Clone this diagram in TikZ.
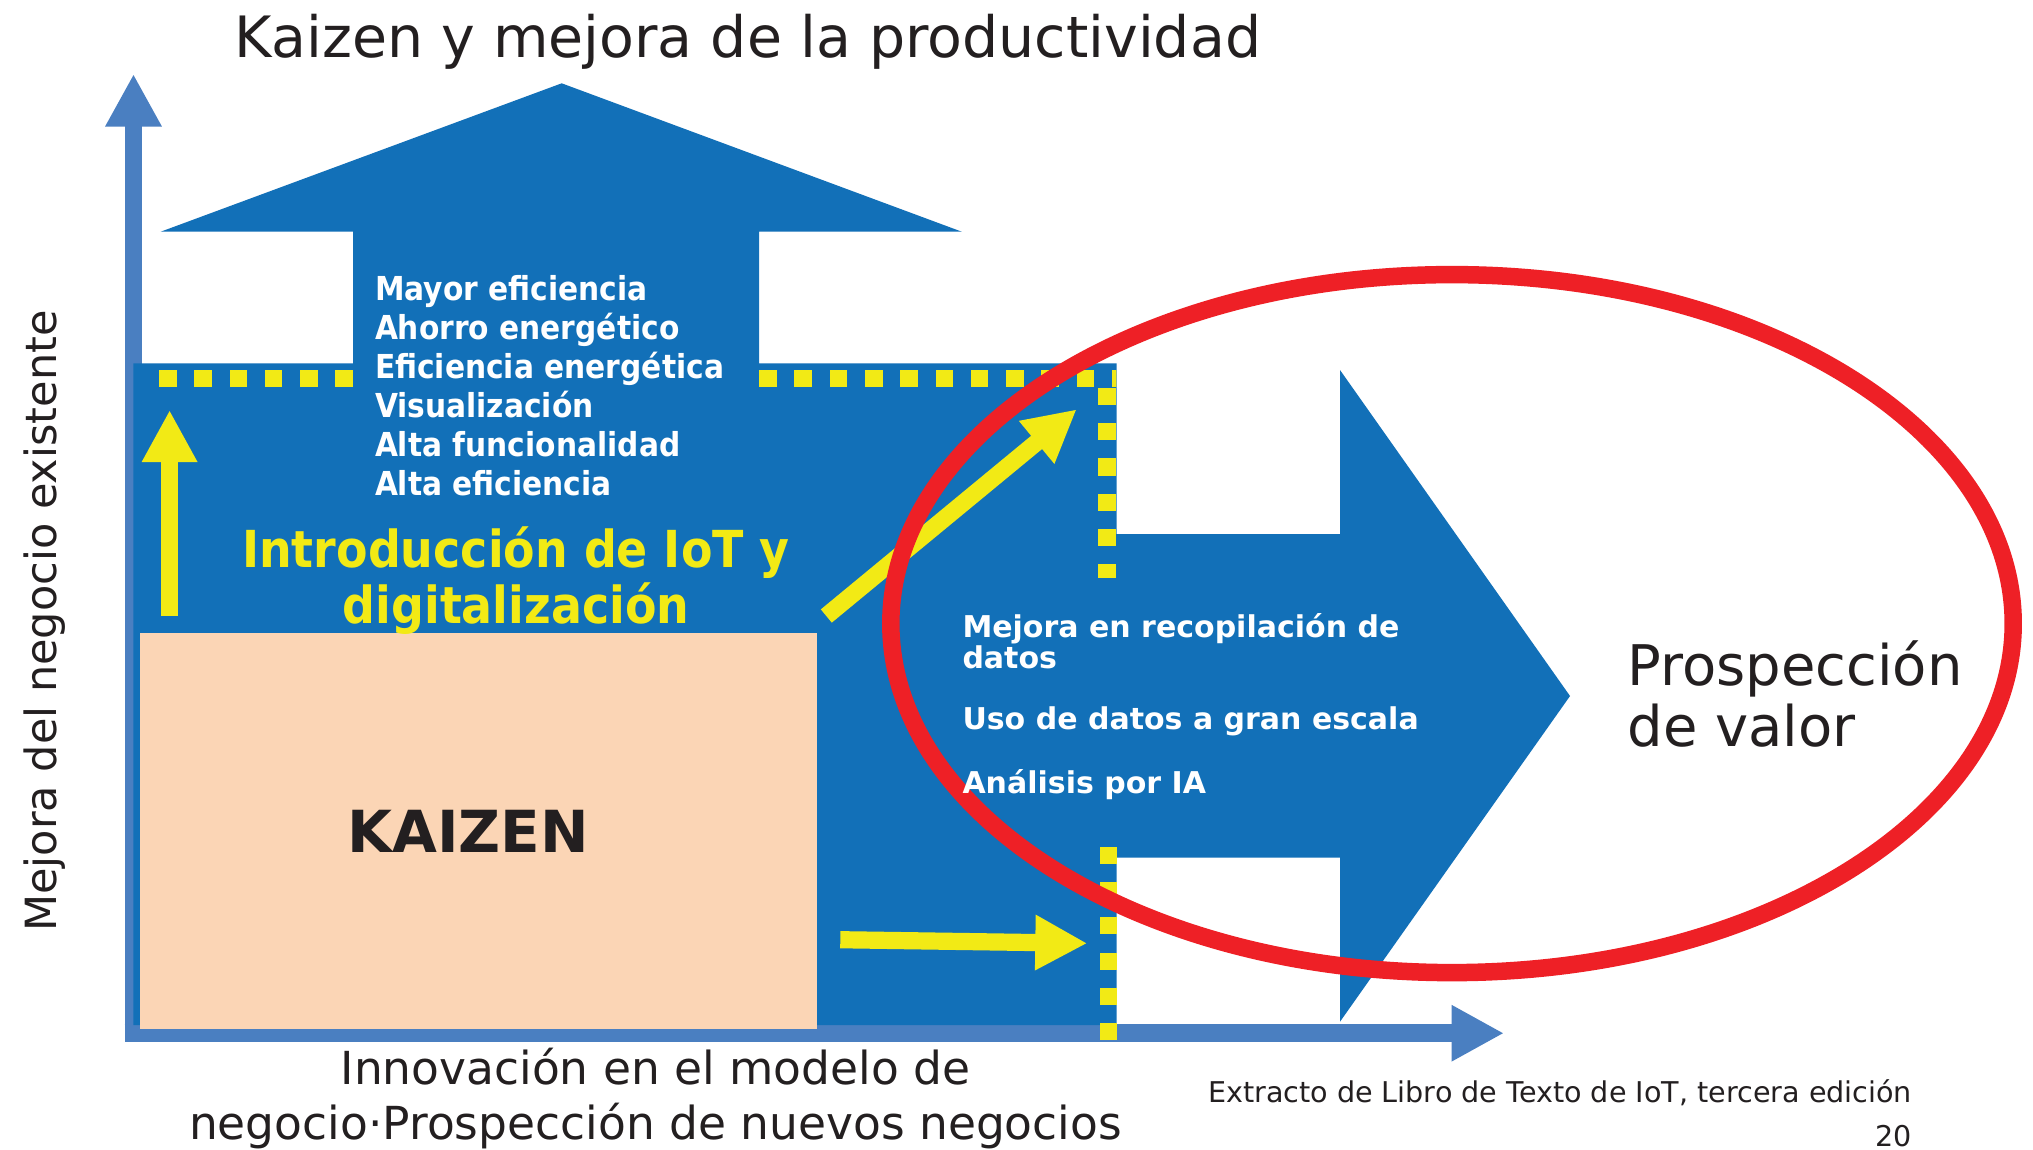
\documentclass[tikz,border=0pt]{standalone}
\usepackage{fontspec}
\setmainfont{DejaVu Sans}
\newfontfamily\condfont[FakeStretch=0.9]{DejaVu Sans}
\usetikzlibrary{arrows.meta}
\definecolor{mainblue}{HTML}{1270B8}
\definecolor{axisblue}{HTML}{4A7FC1}
\definecolor{ylw}{HTML}{F2EA15}
\definecolor{peach}{HTML}{FBD5B5}
\definecolor{redring}{HTML}{EE2026}
\definecolor{ink}{HTML}{231F20}
\tikzset{
  axisarrow/.style={draw=axisblue, line width=17.5pt, -{Triangle[length=52.5pt, width=52.7pt]}},
  yarrow/.style={draw=ylw, line width=17.2pt, -{Triangle[length=52pt, width=51.8pt]}},
  ydot/.style={fill=ylw},
  txt/.style={inner sep=0pt, outer sep=0pt},
  reglabel/.style={txt, text=ink},
  wlist/.style={txt, anchor=base west, text=white, font=\condfont\bfseries\fontsize{33}{39}\selectfont},
  rlist/.style={txt, anchor=base west, text=white, font=\bfseries\fontsize{30}{36}\selectfont},
  ylabel/.style={txt, anchor=base, text=ylw, font=\condfont\bfseries\fontsize{51}{60}\selectfont},
}
\begin{document}
\begin{tikzpicture}[x=1pt, y=-1pt]
\useasboundingbox (0,0) rectangle (2033,1149);
\fill[white] (0,0) rectangle (2033,1149);

% axes
\coordinate (yaxB) at (133.5,1041.7);
\coordinate (yaxT) at (133.5,74);
\coordinate (xaxL) at (124.7,1033.2);
\coordinate (xaxR) at (1504,1033.2);
\draw[axisarrow] (yaxB) -- (yaxT);
\draw[axisarrow] (xaxL) -- (xaxR);

% big blue shape (up arrow + region + right arrow)
\fill[mainblue] (133.3,363.3) -- (353,363.3) -- (353,231.7) -- (160.7,231.7)
  -- (561.7,83.3) -- (961.8,231.7) -- (759,231.7) -- (759,363.3)
  -- (1116.7,363.3) -- (1116.7,534) -- (1340,534) -- (1340,370)
  -- (1570,696) -- (1340,1021.7) -- (1340,857.7) -- (1116.7,857.7)
  -- (1116.7,1025) -- (133.3,1025) -- cycle;

% Kaizen box
\fill[peach] (140.3,633.3) rectangle (817,1029);

% yellow dotted lines
\foreach \i in {0,...,5} {
  \fill[ydot] ({159+35.25*\i},370) rectangle ++(17.6,16.7);
}
\begin{scope}
  \clip (0,0) rectangle (1116.3,1149);
  \foreach \i in {0,...,10} {
    \fill[ydot] ({759+35.3*\i},370) rectangle ++(17.6,16.7);
  }
\end{scope}
\begin{scope}
  \clip (0,0) rectangle (2033,577.7);
  \foreach \i in {0,...,5} {
    \fill[ydot] (1098.3,{387.7+35.3*\i}) rectangle ++(17.7,17.2);
  }
\end{scope}
\foreach \i in {0,...,5} {
  \fill[ydot] (1099.5,{846.7+35.3*\i}) rectangle ++(17.7,17);
}

% yellow arrows
\coordinate (upS) at (169.6,616);
\coordinate (upE) at (169.6,410);
\coordinate (dgS) at (826.3,616);
\coordinate (dgE) at (1076.7,409.3);
\coordinate (hzS) at (840.3,939.7);
\coordinate (hzE) at (1087.3,943.3);
\draw[yarrow] (upS) -- (upE);
\draw[yarrow] (dgS) -- (dgE);
\draw[yarrow] (hzS) -- (hzE);

% red ellipse
\draw[redring, line width=17.5pt] (1452,623.6) ellipse [x radius=561.2, y radius=349];

% texts
\node[reglabel, anchor=base, font=\fontsize{57}{68}\selectfont] (title) at (748,57) {Kaizen y mejora de la productividad};

\node[wlist] (l1) at (375,300.7) {Mayor eficiencia};
\node[wlist] (l2) at (375,339.7) {Ahorro energético};
\node[wlist] (l3) at (375,378) {Eficiencia energética};
\node[wlist] (l4) at (375,417) {Visualización};
\node[wlist] (l5) at (375,456) {Alta funcionalidad};
\node[wlist] (l6) at (375,495) {Alta eficiencia};

\node[ylabel] (iot1) at (516,567.5) {Introducción de IoT y};
\node[ylabel] (iot2) at (516,623) {digitalización};

\node[reglabel, anchor=base, font=\bfseries\fontsize{58}{68}\selectfont] (kaizen) at (468,852.5) {KAIZEN};

\node[rlist] (r1) at (962.5,637.3) {Mejora en recopilación de};
\node[rlist] (r2) at (962.5,668.3) {datos};
\node[rlist] (r3) at (962.5,729.3) {Uso de datos a gran escala};
\node[rlist] (r4) at (962.5,793) {Análisis por IA};

\node[reglabel, anchor=base west, font=\fontsize{56}{66}\selectfont] (pv1) at (1627.7,685) {Prospección};
\node[reglabel, anchor=base west, font=\fontsize{56}{66}\selectfont] (pv2) at (1627.7,746.6) {de valor};

\node[reglabel, anchor=base, rotate=90, font=\fontsize{43}{52}\selectfont] (ylab) at (56,621) {Mejora del negocio existente};

\node[reglabel, anchor=base, font=\fontsize{45.5}{54}\selectfont] (xlab1) at (655.5,1084.7) {Innovación en el modelo de};
\node[reglabel, anchor=base, font=\fontsize{45.5}{54}\selectfont] (xlab2) at (655.5,1139) {negocio·Prospección de nuevos negocios};

\node[reglabel, anchor=base east, font=\fontsize{28.6}{34}\selectfont] (src) at (1912,1102.5) {Extracto de Libro de Texto de IoT, tercera edición};
\node[reglabel, anchor=base east, font=\fontsize{28.6}{34}\selectfont] (pg) at (1912,1146) {20};
\end{tikzpicture}
\end{document}
